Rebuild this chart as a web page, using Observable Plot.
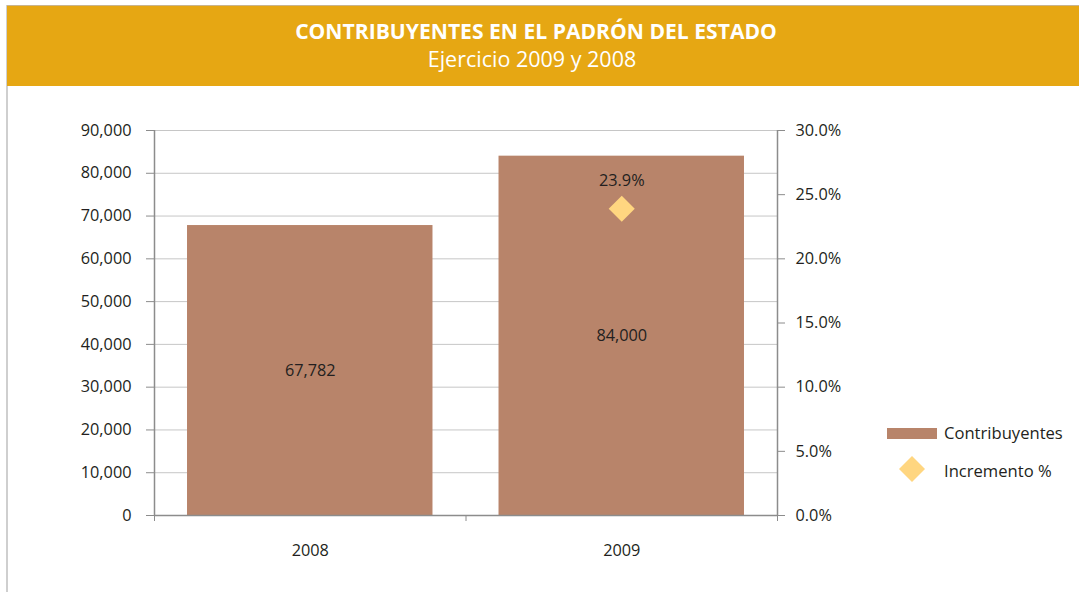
<!DOCTYPE html>
<html>
<head>
<meta charset="utf-8">
<script src="https://cdn.jsdelivr.net/npm/d3@7"></script>
<script src="https://cdn.jsdelivr.net/npm/@observablehq/plot@0.6"></script>
<style>
  body { margin: 0; background: #fff; font-family: "Open Sans", sans-serif; color: #231F20; }
  #page { position: relative; width: 1079px; height: 592px; overflow: hidden; background: #fff; }
  #leftline { position: absolute; left: 6px; top: 5px; width: 1.5px; height: 587px; background: #CFCFCF; }
  #header { position: absolute; left: 7px; top: 5px; width: 1072px; height: 80px; background: #E6A713; border-top: 1.5px solid #C8B48E; }
  #title { position: absolute; left: 0; width: 1058px; top: 10px; text-align: center; color: #fff; font-weight: 700; font-size: 21.1px; }
  #subtitle { position: absolute; left: 0; width: 1050px; top: 38px; text-align: center; color: #fff; font-weight: 400; font-size: 21.5px; }
  #chart { position: absolute; left: 0; top: 86px; }
  .leg { position: absolute; font-size: 16.6px; color: #231F20; }
</style>
</head>
<body>
<div id="page">
  <div id="leftline"></div>
  <div id="header">
    <div id="title">CONTRIBUYENTES EN EL PADRÓN DEL ESTADO</div>
    <div id="subtitle">Ejercicio 2009 y 2008</div>
  </div>
  <div id="chart"></div>
  <div class="leg" style="left:887px;top:428px;width:50px;height:11px;background:#B8846A;"></div>
  <div class="leg" style="left:944px;top:421px;">Contribuyentes</div>
  <svg class="leg" style="left:898px;top:455px;" width="28" height="28"><polygon points="14,1 27,14 14,27 1,14" fill="#FFD680"/></svg>
  <div class="leg" style="left:944px;top:459px;">Incremento %</div>
</div>
<script>
const categories = ["2008", "2009"];
const contribuyentes = [67782, 84000];
const incremento = [null, 23.9];
const leftTicks = [0, 10000, 20000, 30000, 40000, 50000, 60000, 70000, 80000, 90000];
const rightTicks = [0, 5, 10, 15, 20, 25, 30];

const leftMax = 90000, rightMax = 30;
const ratio = leftMax / rightMax;
const rows = categories.map((c, i) => ({i, cat: c, value: contribuyentes[i]}));
const pctRows = categories.map((c, i) => ({i, cat: c, pct: incremento[i]})).filter(d => d.pct != null);
const fmt = d3.format(",");

const axisColor = "#8C8C8C";
const chart = Plot.plot({
  width: 1079,
  height: 506,
  marginTop: 44,
  marginBottom: 77,
  marginLeft: 154,
  marginRight: 302,
  x: {type: "linear", domain: [0, categories.length]},
  y: {domain: [0, leftMax]},
  style: {fontFamily: "'Open Sans', sans-serif", fontSize: "16.3px", color: "#231F20", background: "transparent"},
  marks: [
    Plot.ruleY(leftTicks.filter(d => d > 0), {stroke: "#C6C6C6", strokeWidth: 1}),
    Plot.rectY(rows, {x1: d => d.i + 0.106, x2: d => d.i + 0.894, y: "value", fill: "#B8846A"}),
    Plot.ruleX([0, categories.length], {stroke: axisColor, strokeWidth: 1.5}),
    Plot.ruleY([0], {stroke: axisColor, strokeWidth: 1.5}),
    Plot.axisY({ticks: leftTicks, tickSize: 8, tickPadding: 15, tickFormat: fmt, label: null, stroke: axisColor, fill: "#231F20"}),
    Plot.axisY({ticks: rightTicks.map(d => d * ratio), anchor: "right", tickSize: 7, tickPadding: 11,
      tickFormat: d => (d / ratio).toFixed(1) + "%", label: null, stroke: axisColor, fill: "#231F20"}),
    Plot.axisX({ticks: d3.range(categories.length + 1), tickSize: 6, tickFormat: () => "", label: null, stroke: axisColor}),
    Plot.axisX({ticks: categories.map((c, i) => i + 0.5), tickSize: 0, tickPadding: 29,
      tickFormat: d => categories[Math.floor(d)], label: null, fill: "#231F20"}),
    Plot.text(rows, {x: d => d.i + 0.5, y: d => d.value / 2, text: d => fmt(d.value), fill: "#231F20", fontSize: 16.3}),
    Plot.dot(pctRows, {x: d => d.i + 0.5, y: d => d.pct * ratio, symbol: "square", r: 10.4, rotate: 45, fill: "#FFD680", stroke: "none"}),
    Plot.text(pctRows, {x: d => d.i + 0.5, y: d => d.pct * ratio, dy: -28, text: d => d.pct.toFixed(1) + "%", fill: "#231F20", fontSize: 16.3})
  ]
});
document.getElementById("chart").appendChild(chart);
</script>
</body>
</html>
